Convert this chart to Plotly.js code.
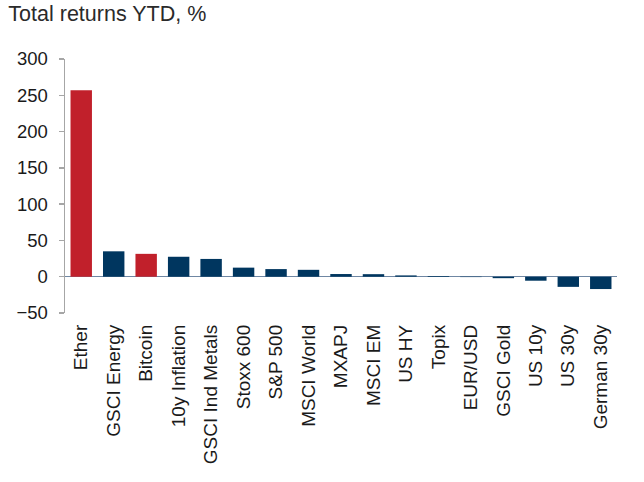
<!DOCTYPE html>
<html>
<head>
<meta charset="utf-8">
<script src="https://cdn.plot.ly/plotly-3.0.1.min.js"></script>
<style>
  html, body { margin: 0; padding: 0; background: #fff; }
  #myDiv { width: 644px; height: 482px; }
</style>
</head>
<body>
<div id="myDiv"></div>
<script>
// total returns year to date, %
var assets = ['Ether', 'GSCI Energy', 'Bitcoin', '10y Inflation', 'GSCI Ind Metals',
              'Stoxx 600', 'S&P 500', 'MSCI World', 'MXAPJ', 'MSCI EM', 'US HY',
              'Topix', 'EUR/USD', 'GSCI Gold', 'US 10y', 'US 30y', 'German 30y'];
var returnsYTD = [257, 35, 31.5, 27.5, 24.5, 12.5, 10.5, 9.5, 3.7, 3.5, 1.8,
                  1, -0.5, -2, -5.5, -14, -17];
var cryptoAssets = ['Ether', 'Bitcoin'];
var yTicks = [-50, 0, 50, 100, 150, 200, 250, 300];

var barColors = assets.map(function (a) {
    return cryptoAssets.indexOf(a) >= 0 ? '#c1202b' : '#00365f';
});

var trace1 = {
    x: assets,
    y: returnsYTD,
    type: 'bar',
    marker: { color: barColors },
    hoverinfo: 'x+y'
};

var layout = {
    width: 644,
    height: 482,
    margin: { l: 65, r: 27, t: 59, b: 168.5 },
    paper_bgcolor: '#fff',
    plot_bgcolor: '#fff',
    showlegend: false,
    bargap: 0.34,
    font: { family: 'Liberation Sans, Arial, sans-serif', color: '#1a1a1a' },
    title: {
        text: 'Total returns YTD, %',
        font: { size: 21.5, color: '#2a2a2a' },
        xref: 'container', x: 0.013, xanchor: 'left',
        yref: 'container', y: 0.988, yanchor: 'top'
    },
    xaxis: {
        type: 'category',
        tickangle: -90,
        showline: false,
        showgrid: false,
        ticks: '',
        tickfont: { size: 19 },
        ticklabelstandoff: 7
    },
    yaxis: {
        range: [-50, 300],
        tickvals: yTicks,
        showgrid: false,
        showline: true,
        linecolor: '#a6a6a6',
        linewidth: 1.5,
        ticks: 'outside',
        ticklen: 5,
        tickcolor: '#a6a6a6',
        tickwidth: 1.5,
        tickfont: { size: 18.5 },
        ticklabelstandoff: 7,
        zeroline: true,
        zerolinecolor: '#6f87a3',
        zerolinewidth: 1.5,
        layer: 'above traces'
    }
};

Plotly.newPlot('myDiv', [trace1], layout, { displayModeBar: false, staticPlot: true });
</script>
</body>
</html>
